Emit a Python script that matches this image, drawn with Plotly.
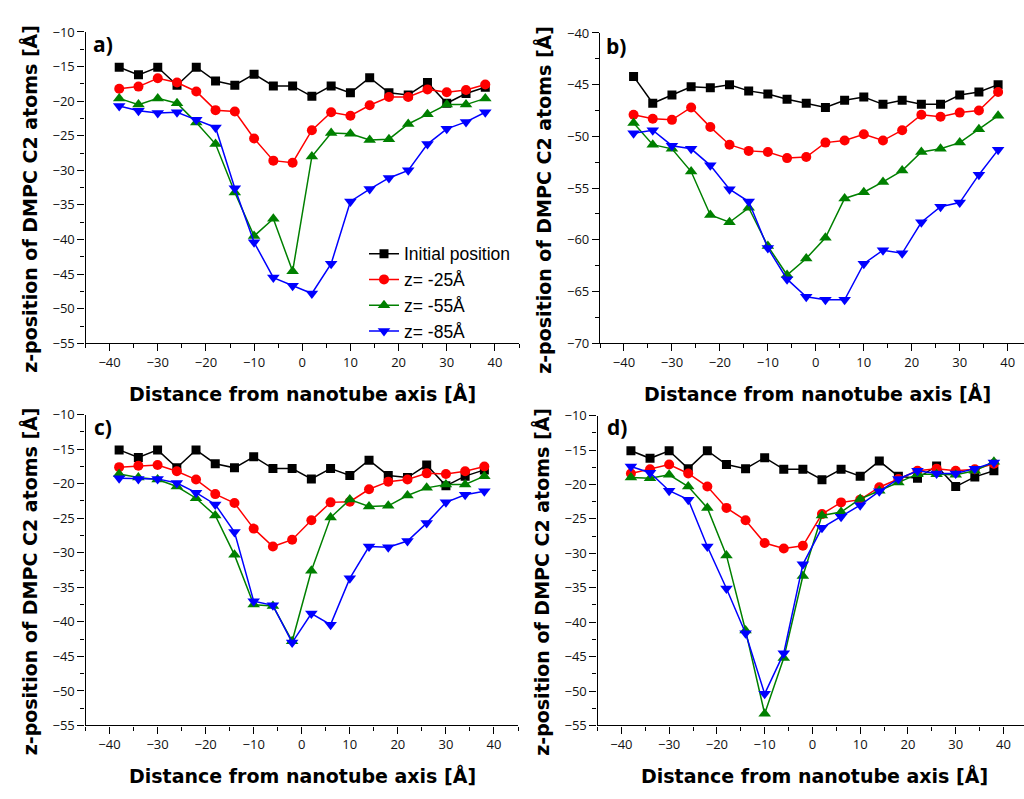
import plotly.graph_objects as go

X_DIST = [-38, -34, -30, -26, -22, -18, -14, -10, -6, -2, 2, 6, 10, 14, 18, 22, 26, 30, 34, 38]

# Initial position (shared by panels a, c, d)
INITIAL_POS = [-15.1, -16.2, -15.1, -17.7, -15.1, -17.1, -17.7, -16.1, -17.8, -17.8,
               -19.3, -17.8, -18.8, -16.6, -18.8, -19.1, -17.3, -20.3, -18.9, -18.0]

# Panel a
A_Z25 = [-18.2, -17.9, -16.7, -17.3, -18.6, -21.3, -21.5, -25.4, -28.6, -28.9,
         -24.2, -21.6, -22.1, -20.6, -19.4, -19.4, -18.3, -18.7, -18.4, -17.6]
A_Z55 = [-19.6, -20.5, -19.6, -20.3, -23.1, -26.2, -33.2, -39.5, -37.0, -44.6,
         -28.0, -24.6, -24.7, -25.6, -25.5, -23.3, -21.9, -20.5, -20.5, -19.6]
A_Z85 = [-20.7, -21.4, -21.7, -21.6, -22.7, -23.8, -32.6, -40.4, -45.5, -46.7,
         -47.8, -43.5, -34.5, -32.7, -31.1, -30.0, -26.2, -24.0, -23.0, -21.6]

# Panel b
B_INIT = [-44.2, -46.8, -46.0, -45.2, -45.3, -45.0, -45.6, -45.9, -46.4, -46.8,
          -47.2, -46.5, -46.2, -46.9, -46.5, -46.9, -46.9, -46.0, -45.7, -45.0]
B_Z25 = [-47.9, -48.3, -48.4, -47.2, -49.1, -50.8, -51.4, -51.5, -52.1, -52.0,
         -50.6, -50.4, -49.8, -50.4, -49.4, -47.9, -48.1, -47.7, -47.5, -45.7]
B_Z55 = [-48.7, -50.8, -51.2, -53.4, -57.6, -58.3, -56.9, -60.6, -63.4, -61.8,
         -59.8, -56.0, -55.4, -54.4, -53.3, -51.5, -51.2, -50.6, -49.3, -48.0]
B_Z85 = [-49.7, -49.4, -50.9, -51.2, -52.8, -55.1, -56.3, -60.8, -63.8, -65.5,
         -65.8, -65.8, -62.3, -61.0, -61.3, -58.3, -56.8, -56.4, -53.7, -51.3]

# Panel c
C_Z25 = [-17.6, -17.4, -17.3, -18.2, -19.4, -21.5, -22.8, -26.5, -29.1, -28.1,
         -25.3, -22.7, -22.6, -20.8, -19.7, -19.4, -18.5, -18.6, -18.2, -17.5]
C_Z55 = [-18.6, -19.1, -19.4, -20.4, -22.1, -24.6, -30.3, -37.5, -37.7, -42.8,
         -32.6, -24.9, -22.3, -23.3, -23.2, -21.7, -20.6, -20.1, -20.1, -18.9]
C_Z85 = [-19.2, -19.3, -19.3, -19.9, -21.3, -23.0, -27.0, -37.0, -37.6, -43.0,
         -38.8, -40.4, -33.7, -29.1, -29.2, -28.3, -25.7, -22.7, -21.6, -21.1]

# Panel d
D_Z25 = [-18.4, -17.8, -17.1, -18.4, -20.3, -23.4, -25.2, -28.5, -29.3, -28.9,
         -24.3, -22.6, -22.2, -20.4, -19.2, -18.0, -17.7, -18.0, -17.8, -17.0]
D_Z55 = [-19.0, -19.1, -18.6, -20.3, -23.4, -30.3, -41.2, -53.3, -45.2, -33.3,
         -24.5, -24.0, -22.1, -20.9, -19.7, -18.5, -18.5, -18.6, -18.0, -16.7]
D_Z85 = [-17.4, -18.3, -20.9, -22.2, -29.0, -35.1, -41.6, -50.4, -44.5, -31.6,
         -26.3, -24.7, -23.0, -21.0, -19.2, -18.0, -18.4, -18.4, -17.7, -16.8]

SERIES_NAMES = ["Initial position", "z= -25Å", "z= -55Å", "z= -85Å"]
COLORS = ["#000000", "#ff0000", "#008000", "#0000ff"]
SYMBOLS = ["square", "circle", "triangle-up", "triangle-down"]
SIZES = [9, 10, 11, 11]

PANELS = [
    ("a)", [INITIAL_POS, A_Z25, A_Z55, A_Z85], [-55, -10]),
    ("b)", [B_INIT, B_Z25, B_Z55, B_Z85], [-70, -40]),
    ("c)", [INITIAL_POS, C_Z25, C_Z55, C_Z85], [-55, -10]),
    ("d)", [INITIAL_POS, D_Z25, D_Z55, D_Z85], [-55, -10]),
]

W, H = 1024, 799
# pixel boxes: (left, right, top, bottom)
BOXES = [(85.5, 519, 23.5, 342), (600, 1024, 24.5, 342),
         (85.5, 518, 415, 733), (597.5, 1024, 416, 733)]
XRANGES = [[-45, 45], [-45, 43.4], [-45, 45], [-45, 44.3]]
LABEL_POS = [(102.5, 36), (616, 38), (103, 428), (617, 428)]

fig = go.Figure()
FONT = "Open Sans"
TFONT = "DejaVu Sans"

for i, (label, series, yr) in enumerate(PANELS):
    xa = "x" if i == 0 else f"x{i+1}"
    ya = "y" if i == 0 else f"y{i+1}"
    for j in range(4):
        fig.add_trace(go.Scatter(
            x=X_DIST, y=series[j], mode="lines+markers", name=SERIES_NAMES[j],
            line=dict(color=COLORS[j], width=1.5),
            marker=dict(symbol=SYMBOLS[j], size=SIZES[j], color=COLORS[j]),
            xaxis=xa, yaxis=ya, showlegend=(i == 0)))
    l, r, t, b = BOXES[i]
    axcommon = dict(showline=True, linecolor="black", linewidth=1.2, showgrid=False,
                    zeroline=False, ticks="outside", ticklen=7, tickwidth=1.2,
                    tickcolor="black", tickfont=dict(family=FONT, size=13, color="#111"))
    xkey = "xaxis" if i == 0 else f"xaxis{i+1}"
    ykey = "yaxis" if i == 0 else f"yaxis{i+1}"
    fig.update_layout({
        xkey: dict(domain=[l / W, r / W], anchor=ya, range=XRANGES[i],
                   tickmode="linear", tick0=-40, dtick=10,
                   minor=dict(dtick=5, ticks="outside", ticklen=4, tickcolor="black", tickwidth=1.2),
                   **axcommon),
        ykey: dict(domain=[1 - b / H, 1 - t / H], anchor=xa, range=yr,
                   tickmode="linear", tick0=yr[0], dtick=5,
                   minor=dict(dtick=2.5, ticks="outside", ticklen=4, tickcolor="black", tickwidth=1.2),
                   **axcommon),
    })
    lx, ly = LABEL_POS[i]
    fig.add_annotation(text=f"<b>{label}</b>", x=lx / W, y=1 - ly / H,
                       xref="paper", yref="paper", xanchor="center", yanchor="middle",
                       showarrow=False, font=dict(family=FONT, size=21, color="black"))
    # x title
    fig.add_annotation(text="<b>Distance from nanotube axis [Å]</b>",
                       x=(l + 217) / W, y=1 - (b + 51) / H,
                       xref="paper", yref="paper", xanchor="center", yanchor="middle",
                       showarrow=False, font=dict(family=TFONT, size=19, color="black"))
    # y title
    fig.add_annotation(text="<b>z-position of DMPC C2 atoms [Å]</b>",
                       x=(l - 56) / W, y=1 - ((t + b) / 2 + 12) / H,
                       xref="paper", yref="paper", xanchor="center", yanchor="middle",
                       textangle=-90, showarrow=False,
                       font=dict(family=TFONT, size=19, color="black"))

fig.update_layout(
    width=W, height=H, margin=dict(l=0, r=0, t=0, b=0),
    paper_bgcolor="white", plot_bgcolor="white",
    font=dict(family=FONT, color="black"),
    legend=dict(x=364 / W, y=1 - 232 / H, xanchor="left", yanchor="top",
                bgcolor="rgba(0,0,0,0)",
                font=dict(family="Liberation Sans", size=17.5, color="black"),
                tracegroupgap=0, itemsizing="trace"),
)

fig.write_html("out.html", config={"displayModeBar": False},
               post_script="document.body.style.margin='0';document.body.style.overflow='hidden';")
